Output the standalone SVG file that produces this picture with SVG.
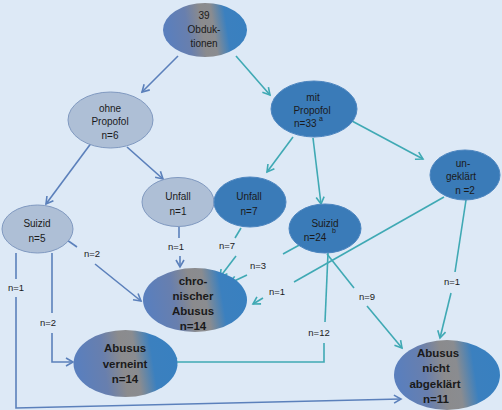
<svg xmlns="http://www.w3.org/2000/svg" width="502" height="410" viewBox="0 0 502 410">
<style>
text{font-family:"Liberation Sans","DejaVu Sans",sans-serif;fill:#1a1a1a;text-anchor:middle}
.t{font-size:10px}
.b{font-size:11.5px;font-weight:bold}
.l{font-size:9.5px}
.light{fill:#aebfd6;stroke:#8099c0;stroke-width:1}
.dark{fill:#3a7bb8;stroke:#4d86c0;stroke-width:1}
.grad{fill:url(#g);stroke:none}
.cb{fill:none;stroke:#5b80bb;stroke-width:1.6}
.ct{fill:none;stroke:#3fa9b4;stroke-width:1.6}
.ab{marker-end:url(#mb)}
.at{marker-end:url(#mt)}
</style>
<defs>
<linearGradient id="g" x1="0" y1="0.1" x2="1" y2="0">
<stop offset="0" stop-color="#5a7fbd"/>
<stop offset="0.25" stop-color="#687fae"/>
<stop offset="0.43" stop-color="#8b8b8d"/>
<stop offset="0.56" stop-color="#8a8c90"/>
<stop offset="0.72" stop-color="#3b80bf"/>
<stop offset="1" stop-color="#3880c0"/>
</linearGradient>
<marker id="mb" markerUnits="userSpaceOnUse" markerWidth="12" markerHeight="12" refX="8" refY="5" orient="auto">
<path d="M1,1 L8,5 L1,9" fill="none" stroke="#5b80bb" stroke-width="1.6"/>
</marker>
<marker id="mt" markerUnits="userSpaceOnUse" markerWidth="12" markerHeight="12" refX="8" refY="5" orient="auto">
<path d="M1,1 L8,5 L1,9" fill="none" stroke="#3fa9b4" stroke-width="1.6"/>
</marker>
</defs>
<rect x="0" y="0" width="502" height="410" fill="#dde9f6"/>

<g id="connectors">
<path class="cb ab" d="M178,56 L142,92"/>
<path class="ct at" d="M236,56 L270,95"/>
<path class="cb ab" d="M92,142 L46,204"/>
<path class="cb ab" d="M127,147 L163,179"/>
<path class="ct at" d="M293,137 L267,172"/>
<path class="ct at" d="M313,138 L321,204"/>
<path class="ct at" d="M352,121 L423,159"/>
<path class="cb" d="M179,227 L179,238"/>
<path class="cb ab" d="M180,256 L180,267"/>
<path class="ct" d="M241,228 L235,238"/>
<path class="ct at" d="M236,256 L220,277"/>
<path class="cb" d="M57,233 L77,247"/>
<path class="cb ab" d="M95,264 L141,301"/>
<path class="cb" d="M52,253 L52,313"/>
<path class="cb ab" d="M52,333 L52,362 L73,362"/>
<path class="cb" d="M16,253 L16,279"/>
<path class="cb ab" d="M16,297 L16,408 L401,399"/>
<path class="ct" d="M303,243 L283,254"/>
<path class="ct at" d="M247,275 L230,283"/>
<path class="ct" d="M444,197 L294,282"/>
<path class="ct at" d="M263,298 L253,304"/>
<path class="ct" d="M466,200 L455,272"/>
<path class="ct at" d="M451,293 L440,338"/>
<path class="ct" d="M328,253 L325,322"/>
<path class="ct at" d="M324,343 L324,362 L170,362"/>
<path class="ct" d="M327,254 L354,288"/>
<path class="ct at" d="M367,306 L402,348"/>
</g>

<g id="labels">
<text class="l" x="176" y="250">n=1</text>
<text class="l" x="227" y="249">n=7</text>
<text class="l" x="92" y="257">n=2</text>
<text class="l" x="258" y="269">n=3</text>
<text class="l" x="277" y="295">n=1</text>
<text class="l" x="367" y="300">n=9</text>
<text class="l" x="319" y="336">n=12</text>
<text class="l" x="452" y="285">n=1</text>
<text class="l" x="16" y="291">n=1</text>
<text class="l" x="48" y="326">n=2</text>
</g>

<g id="n39">
<ellipse class="grad" cx="205" cy="30" rx="42" ry="27"/>
<text class="t" x="204" y="18.5">39</text>
<text class="t" x="204" y="32.5">Obduk-</text>
<text class="t" x="204" y="46.5">tionen</text>
</g>
<g id="ohne">
<ellipse class="light" cx="110.5" cy="120" rx="42.5" ry="28"/>
<text class="t" x="110" y="111.5">ohne</text>
<text class="t" x="110" y="125">Propofol</text>
<text class="t" x="110" y="138.5">n=6</text>
</g>
<g id="mit">
<ellipse class="dark" cx="314" cy="109" rx="43" ry="28"/>
<text class="t" x="313" y="100.5">mit</text>
<text class="t" x="312" y="113.5">Propofol</text>
<text class="t" x="294" y="127" style="text-anchor:start">n=33</text>
<text x="319" y="121" style="font-size:7px;text-anchor:start">a</text>
</g>
<g id="ungeklaert">
<ellipse class="dark" cx="465" cy="175" rx="35" ry="25"/>
<text class="t" x="463" y="166.5">un-</text>
<text class="t" x="461" y="179.5">geklärt</text>
<text class="t" x="465" y="193.5">n =2</text>
</g>
<g id="unfall1">
<ellipse class="light" cx="178" cy="202" rx="36" ry="24.5"/>
<text class="t" x="178" y="199.5">Unfall</text>
<text class="t" x="178" y="214.5">n=1</text>
</g>
<g id="unfall7">
<ellipse class="dark" cx="250" cy="202" rx="36" ry="25"/>
<text class="t" x="249" y="199.5">Unfall</text>
<text class="t" x="249" y="214.5">n=7</text>
</g>
<g id="suizid5">
<ellipse class="light" cx="37.5" cy="229" rx="35.5" ry="24"/>
<text class="t" x="37" y="226.5">Suizid</text>
<text class="t" x="37" y="241.5">n=5</text>
</g>
<g id="suizid24">
<ellipse class="dark" cx="325" cy="228.5" rx="36" ry="24.5"/>
<text class="t" x="325" y="226.5">Suizid</text>
<text class="t" x="315" y="240.5">n=24</text>
<text x="332" y="233" style="font-size:7px;text-anchor:start">b</text>
</g>
<g id="chronisch">
<ellipse class="grad" cx="195" cy="300" rx="52" ry="32"/>
<text class="b" x="193" y="285">chro-</text>
<text class="b" x="193" y="300">nischer</text>
<text class="b" x="193" y="314.5">Abusus</text>
<text class="b" x="193" y="329.5">n=14</text>
</g>
<g id="verneint">
<ellipse class="grad" cx="125.5" cy="363.5" rx="52" ry="33.5"/>
<text class="b" x="125" y="352">Abusus</text>
<text class="b" x="125" y="367.5">verneint</text>
<text class="b" x="125" y="383">n=14</text>
</g>
<g id="nichtabgeklaert">
<ellipse class="grad" cx="447" cy="375" rx="53" ry="35"/>
<text class="b" x="438" y="357">Abusus</text>
<text class="b" x="436" y="372">nicht</text>
<text class="b" x="435" y="387.5">abgeklärt</text>
<text class="b" x="436" y="403">n=11</text>
</g>
</svg>
